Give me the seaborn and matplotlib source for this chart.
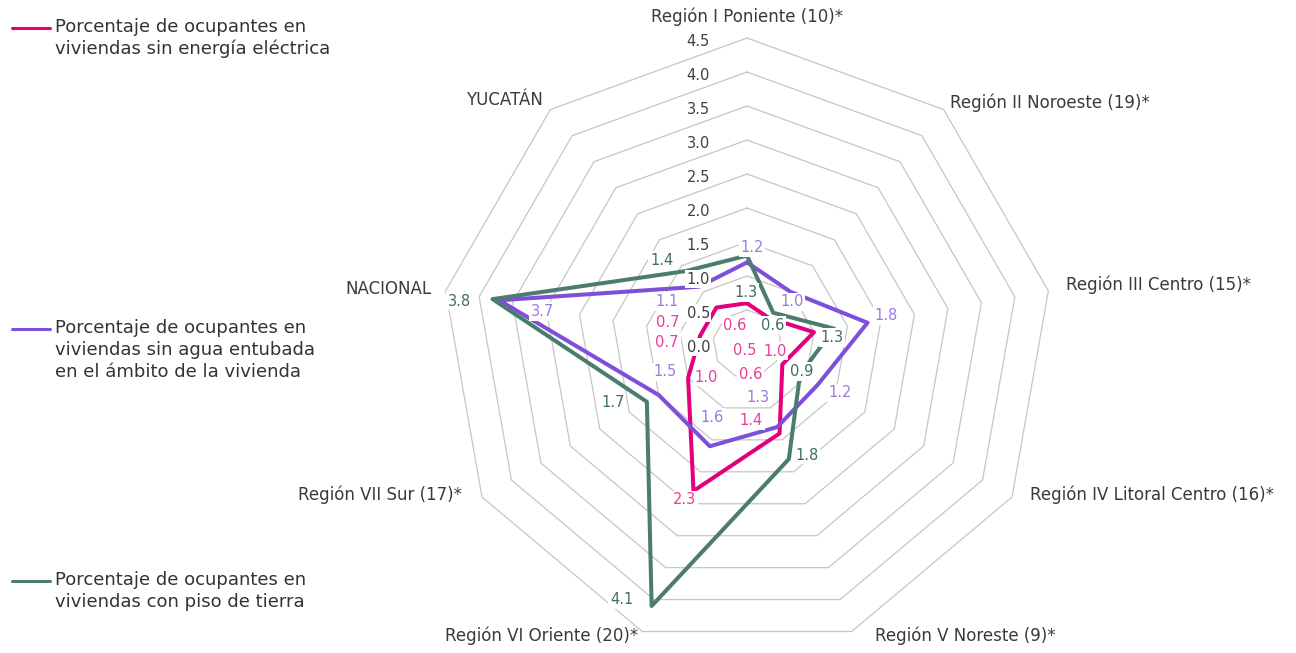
import numpy as np
import pandas as pd
import matplotlib
matplotlib.use("Agg")
import matplotlib.pyplot as plt
import seaborn as sns
from matplotlib.lines import Line2D

# Datos
categorias = ['Región I Poniente (10)*', 'Región II Noroeste (19)*', 'Región III Centro (15)*',
              'Región IV Litoral Centro (16)*', 'Región V Noreste (9)*', 'Región VI Oriente (20)*',
              'Región VII Sur (17)*', 'NACIONAL', 'YUCATÁN']
sin_energia = [0.6, 0.5, 1.0, 0.6, 1.4, 2.3, 1.0, 0.7, 0.7]
sin_agua = [1.2, 1.0, 1.8, 1.2, 1.3, 1.6, 1.5, 3.7, 1.1]
piso_tierra = [1.3, 0.6, 1.3, 0.9, 1.8, 4.1, 1.7, 3.8, 1.4]
ticks_r = [0.0, 0.5, 1.0, 1.5, 2.0, 2.5, 3.0, 3.5, 4.0, 4.5]

series_nombres = [
    ['Porcentaje de ocupantes en', 'viviendas sin energía eléctrica'],
    ['Porcentaje de ocupantes en', 'viviendas sin agua entubada', 'en el ámbito de la vivienda'],
    ['Porcentaje de ocupantes en', 'viviendas con piso de tierra'],
]
colores = ['#E4007C', '#7E4FD9', '#4A7D70']
colores_etq = ['#EC3C9A', '#9A7BE0', '#3E6E61']

# desplazamientos de etiquetas (pixeles, dx a la derecha, dy hacia abajo)
off_energia = [(-12, 22), (-24, 33), (-39, 19), (-32, 10), (-28, -13), (-9, 9), (18, -1), (-33, 7), (-49, 15)]
off_agua = [(5, -15), (1, 10), (19, -7), (22, 8), (-19, -30), (2, -29), (6, -23), (43, 11), (-32, 15)]
off_tierra = [(-1, 37), (-1, 13), (-2, 9), (2, -3), (18, -4), (-30, -6), (-34, 1), (-33, 2), (-24, -11)]

# desplazamiento de etiquetas de categoria (px) y alineacion
off_cat = [(0, 21, 'center'), (6, 7, 'left'), (18, 6, 'left'), (18, 2, 'left'), (23, -4, 'left'),
           (-4, -4, 'right'), (-20, 2, 'right'), (-14, 2, 'right'), (-7, 10, 'right')]

sns.set_style('white')
plt.rcParams['font.family'] = ['DejaVu Sans']

W, H = 1296, 653
fig = plt.figure(figsize=(W / 100, H / 100), dpi=100)
cx, cy, rad = 747, 344, 306
ax = fig.add_axes([(cx - rad) / W, 1 - (cy + rad) / H, 2 * rad / W, 2 * rad / H], projection='polar')
ax.set_theta_zero_location('N')
ax.set_theta_direction(-1)
ax.set_ylim(0, 4.5)
ax.set_xticks([])
ax.set_yticks([])
ax.grid(False)
ax.spines['polar'].set_visible(False)
ax.patch.set_alpha(0)

n = len(categorias)
theta = np.linspace(0, 2 * np.pi, n, endpoint=False)
theta_c = np.append(theta, theta[0])

# anillos poligonales
for r in ticks_r[1:]:
    ax.plot(theta_c, [r] * (n + 1), color='#C6C6C6', lw=0.9, zorder=1, clip_on=False)

datos = [sin_energia, sin_agua, piso_tierra]
offs = [off_energia, off_agua, off_tierra]
for vals, col, col_e, off in zip(datos, colores, colores_etq, offs):
    df = pd.DataFrame({'theta': theta_c, 'valor': vals + vals[:1]})
    sns.lineplot(data=df, x='theta', y='valor', sort=False, estimator=None, color=col,
                 lw=2.9, ax=ax, zorder=3, clip_on=False)
    for t, v, (dx, dy) in zip(theta, vals, off):
        ax.annotate(f'{v:.1f}', xy=(t, v), xytext=(dx, -dy), textcoords='offset pixels',
                    ha='center', va='center', color=col_e, fontsize=10.5, zorder=6,
                    bbox=dict(boxstyle='square,pad=0.12', fc='white', ec='none'))

ax.set_xlabel('')
ax.set_ylabel('')

# etiquetas del eje radial
for r in ticks_r:
    ax.annotate(f'{r:.1f}', xy=(0, r), xytext=(-37, -3), textcoords='offset pixels',
                ha='right', va='center', color='#404040', fontsize=10.5, zorder=5,
                bbox=dict(boxstyle='square,pad=0.1', fc='white', ec='none'))

# etiquetas de categoria
for t, lab, (dx, dy, ha) in zip(theta, categorias, off_cat):
    ax.annotate(lab, xy=(t, 4.5), xytext=(dx, dy), textcoords='offset pixels',
                ha=ha, va='center', color='#3A3A3A', fontsize=12, annotation_clip=False)

# leyenda manual
leg_y = [28, 329, 581]
for nombres, col, y0 in zip(series_nombres, colores, leg_y):
    fig.add_artist(Line2D([12 / W, 50 / W], [1 - y0 / H] * 2, color=col, lw=2.2,
                          transform=fig.transFigure))
    for i, linea in enumerate(nombres):
        fig.text(55 / W, 1 - (y0 - 1 + 22 * i) / H, linea, ha='left', va='center',
                 color='#333333', fontsize=13)

fig.savefig('out.png', dpi=100, facecolor='white')
